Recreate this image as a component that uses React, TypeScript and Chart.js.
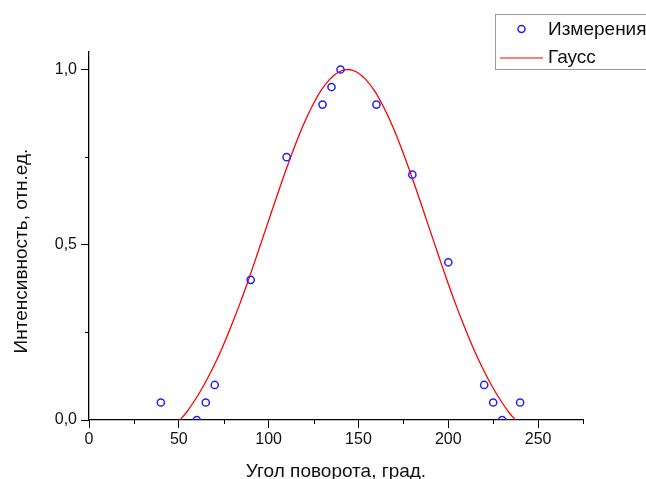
import React, { useEffect, useRef } from "react";
import { Chart, registerables } from "chart.js";

Chart.register(...registerables);

// Measured points (angle, intensity)
const measAngles = [40, 60, 65, 70, 90, 110, 130, 135, 140, 160, 180, 200, 220, 225, 230, 240];
const measValues = [0.05, 0, 0.05, 0.1, 0.4, 0.75, 0.9, 0.95, 1.0, 0.9, 0.7, 0.45, 0.1, 0.05, 0, 0.05];

// Gauss fit curve
const gaussAngles = [50.5, 54, 59, 64, 69, 74, 79, 84, 89, 94, 99, 104, 109, 114, 119, 124, 129, 134, 139, 144,
  149, 154, 159, 164, 169, 174, 179, 184, 189, 194, 199, 204, 209, 214, 219, 224, 229, 234, 237.5];
const gaussValues = [0, 0.02, 0.057, 0.1, 0.149, 0.204, 0.266, 0.332, 0.403, 0.478, 0.554, 0.63, 0.704, 0.774, 0.838, 0.893, 0.939, 0.972, 0.993, 1.0,
  0.993, 0.972, 0.939, 0.893, 0.838, 0.774, 0.704, 0.63, 0.554, 0.478, 0.403, 0.332, 0.266, 0.204, 0.149, 0.1, 0.057, 0.02, 0];

const xMinorTicks = [25, 75, 125, 175, 225, 275];
const yMinorTicks = [0.25, 0.75];

const xTitle = "Угол поворота, град.";
const yTitle = "Интенсивность, отн.ед.";
const legendLabels = ["Измерения", "Гаусс"];

const FONT = "'Liberation Sans', Arial, sans-serif";

export default function App() {
  const ref = useRef<HTMLCanvasElement | null>(null);

  useEffect(() => {
    document.body.style.margin = "0";
    const canvas = ref.current;
    if (!canvas) return;

    const decor = {
      id: "decor",
      afterDraw(chart: any) {
        const ctx = chart.ctx;
        const xs = chart.scales.x;
        const ys = chart.scales.y;
        const area = chart.chartArea;
        ctx.save();
        // minor ticks
        ctx.strokeStyle = "#000";
        ctx.lineWidth = 1;
        ctx.beginPath();
        xMinorTicks.forEach((v) => {
          const px = Math.round(xs.getPixelForValue(v)) + 0.5;
          ctx.moveTo(px, area.bottom);
          ctx.lineTo(px, area.bottom + 4);
        });
        yMinorTicks.forEach((v) => {
          const py = Math.round(ys.getPixelForValue(v)) + 0.5;
          ctx.moveTo(area.left, py);
          ctx.lineTo(area.left - 4, py);
        });
        ctx.stroke();

        // axis titles
        ctx.fillStyle = "#111";
        ctx.font = `19px ${FONT}`;
        ctx.textAlign = "center";
        ctx.textBaseline = "alphabetic";
        ctx.fillText(xTitle, 336, 477);
        ctx.save();
        ctx.translate(27, 251);
        ctx.rotate(-Math.PI / 2);
        ctx.fillText(yTitle, 0, 0);
        ctx.restore();

        // legend
        ctx.fillStyle = "#fff";
        ctx.fillRect(495, 14, 160, 55);
        ctx.strokeStyle = "#999";
        ctx.lineWidth = 1;
        ctx.strokeRect(495.5, 14.5, 160, 55);
        ctx.strokeStyle = "#2020ff";
        ctx.lineWidth = 1.5;
        ctx.beginPath();
        ctx.arc(521.5, 29, 3.5, 0, Math.PI * 2);
        ctx.stroke();
        ctx.strokeStyle = "#ff0000";
        ctx.lineWidth = 1.2;
        ctx.beginPath();
        ctx.moveTo(500, 58);
        ctx.lineTo(543, 58);
        ctx.stroke();
        ctx.fillStyle = "#111";
        ctx.font = `19px ${FONT}`;
        ctx.textAlign = "left";
        ctx.textBaseline = "middle";
        ctx.fillText(legendLabels[0], 548, 30);
        ctx.fillText(legendLabels[1], 548, 58);
        ctx.restore();
      },
    };

    const chart = new Chart(canvas, {
      type: "scatter",
      data: {
        datasets: [
          {
            label: legendLabels[1],
            type: "line",
            data: gaussAngles.map((x, i) => ({ x, y: gaussValues[i] })),
            borderColor: "#ff0000",
            borderWidth: 1.3,
            pointRadius: 0,
            tension: 0.3,
            fill: false,
            order: 2,
          } as any,
          {
            label: legendLabels[0],
            data: measAngles.map((x, i) => ({ x, y: measValues[i] })),
            borderColor: "#2020ff",
            backgroundColor: "rgba(0,0,0,0)",
            borderWidth: 1.5,
            pointRadius: 3.6,
            pointHoverRadius: 3.6,
            clip: 0,
            order: 1,
          } as any,
        ],
      },
      options: {
        animation: false,
        responsive: false,
        maintainAspectRatio: false,
        events: [],
        layout: { padding: { top: 52, right: 63, left: 0, bottom: 0 } },
        plugins: { legend: { display: false }, tooltip: { enabled: false } },
        scales: {
          x: {
            type: "linear",
            min: 0,
            max: 275,
            afterFit: (s: any) => { s.height = 59; },
            border: { color: "#000", width: 1.3 },
            grid: { display: true, drawOnChartArea: false, drawTicks: true, tickLength: 8, color: "#000", tickWidth: 1 },
            ticks: {
              stepSize: 50,
              includeBounds: false,
              color: "#111",
              padding: 2,
              maxRotation: 0,
              font: { family: FONT, size: 16 },
            },
          },
          y: {
            type: "linear",
            min: 0,
            max: 1.05,
            afterFit: (s: any) => { s.width = 89; },
            border: { color: "#000", width: 1.3 },
            grid: { display: true, drawOnChartArea: false, drawTicks: true, tickLength: 8, color: "#000", tickWidth: 1 },
            ticks: {
              stepSize: 0.5,
              includeBounds: false,
              color: "#111",
              padding: 4,
              font: { family: FONT, size: 16 },
              callback: (v: any) => Number(v).toFixed(1).replace(".", ","),
            },
          },
        },
      },
      plugins: [decor],
    });

    return () => chart.destroy();
  }, []);

  return (
    <div style={{ position: "fixed", left: 0, top: 0, width: 646, height: 479, background: "#fff" }}>
      <canvas ref={ref} width={646} height={479} style={{ display: "block", width: 646, height: 479 }} />
    </div>
  );
}
